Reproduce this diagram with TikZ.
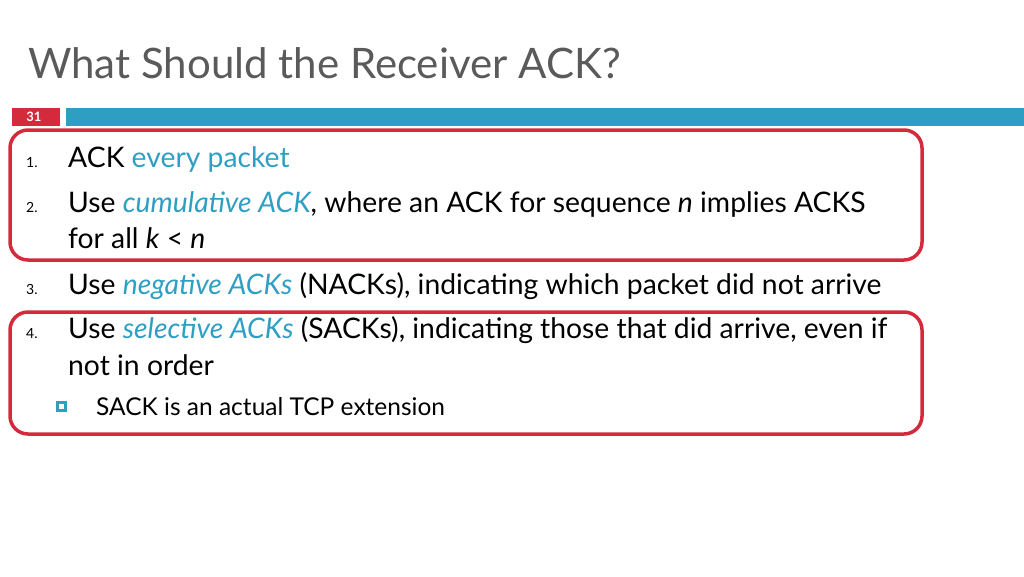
\documentclass[tikz,border=0pt]{standalone}
\usepackage{fontspec}
\setmainfont{Lato}
\definecolor{hl}{HTML}{2E9FC2}
\definecolor{rd}{HTML}{D42A3C}
\definecolor{tg}{HTML}{5A5A5A}
\newcommand{\hlt}[1]{\textcolor{hl}{#1}}
\begin{document}
\begin{tikzpicture}[x=1pt,y=-1pt,
  num/.style={anchor=base west,font=\fontsize{14}{16}\selectfont,inner sep=0},
  itm/.style={anchor=base west,font=\fontsize{28.3}{30}\selectfont,inner sep=0},
  rbox/.style={draw=rd,line width=3.5pt,rounded corners=18pt}]
\useasboundingbox (0,0) rectangle (1024,576);
\node[anchor=base west,inner sep=0,text=tg,font=\fontsize{42}{46}\selectfont] (title) at (28,78) {What Should the Receiver ACK?};
\fill[rd] (12,108) rectangle (60,126);
\node[text=white,font=\bfseries\fontsize{13}{14}\selectfont] (pg) at (34,117) {31};
\fill[hl] (66,108) rectangle (1024,126);
\node[num] (n1) at (26,167) {1.};
\node[itm] (t1) at (68,167) {ACK \hlt{every packet}};
\node[num] (n2) at (26,212) {2.};
\node[itm] (t2) at (68,212) {Use \hlt{\itshape cumulative ACK}, where an ACK for sequence \textit{n} implies ACKS};
\node[itm] (t2b) at (68,248) {for all \textit{k} < \textit{n}};
\node[num] (n3) at (26,294) {3.};
\node[itm] (t3) at (68,294) {Use \hlt{\itshape negative ACKs} (NACKs), indicating which packet did not arrive};
\node[num] (n4) at (26,338) {4.};
\node[itm] (t4) at (68,338) {Use \hlt{\itshape selective ACKs} (SACKs), indicating those that did arrive, even if};
\node[itm] (t4b) at (68,375) {not in order};
\draw[hl,line width=3pt] (57,402) rectangle (65,410);
\node[anchor=base west,inner sep=0,font=\fontsize{24.5}{26}\selectfont] (s1) at (96,415) {SACK is an actual TCP extension};
\draw[rbox] (10,130) rectangle (922,260);
\draw[rbox] (10,312) rectangle (922,434);
\end{tikzpicture}
\end{document}
